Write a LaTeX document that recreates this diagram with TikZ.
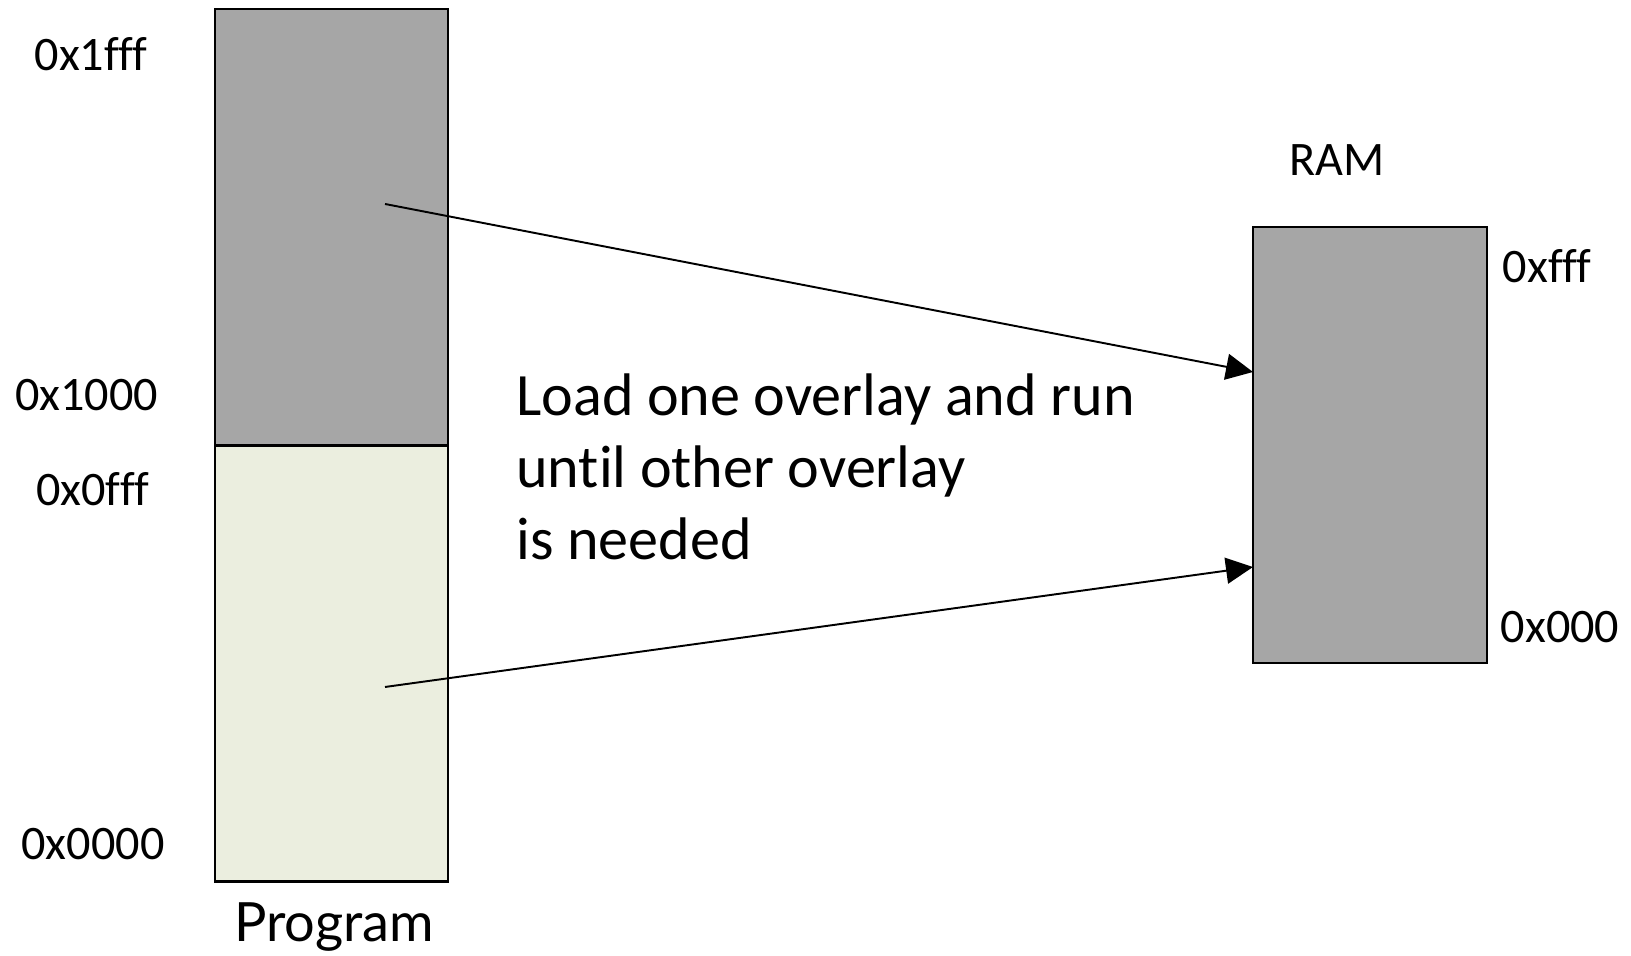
\documentclass[tikz,border=0pt]{standalone}
\usepackage{fontspec}
\setmainfont{Carlito}[Ligatures=NoCommon]
\newfontfamily\progfont{Lato}
\usetikzlibrary{arrows.meta}

\definecolor{segfill}{HTML}{A6A6A6}
\definecolor{lowfill}{HTML}{EBEEDF}

\begin{document}
\begin{tikzpicture}[
    block/.style={draw, line width=1.4pt, rectangle, inner sep=0pt, outer sep=0pt,
                  minimum width=4.67cm, minimum height=8.72cm},
    addr/.style={anchor=base, inner sep=0pt, font=\fontsize{27.4}{33}\selectfont},
    loadarrow/.style={line width=1.1pt, -{Triangle[length=0.54cm, width=0.52cm]}}
]
    \useasboundingbox (0,0) rectangle (32.62,19.12);

    %% Program image, split into two overlays
    \node[block, fill=segfill] (ovtop) at (6.63,14.58) {};
    \node[block, fill=lowfill] (ovbot) at (6.63,5.85) {};
    \node[anchor=base, inner sep=0pt, font=\progfont\fontsize{30.8}{36}\selectfont] (prog) at (6.68,0.28) {Program};

    % Program addresses
    \node[addr] (a1fff) at (1.82,17.70) {0x1fff};
    \node[addr] (a1000) at (1.73,10.91) {0x1000};
    \node[addr] (a0fff) at (1.85,9.00) {0x0fff};
    \node[addr] (a0000) at (1.86,1.92) {0x0000};

    %% RAM
    \node[block, fill=segfill] (ram) at (27.40,10.22) {};
    \node[addr] (ramlbl) at (26.74,15.60) {RAM};
    \node[addr] (rfff) at (30.94,13.46) {0xfff};
    \node[addr] (r000) at (31.20,6.27) {0x000};

    %% Loading the overlays
    \coordinate (srctop) at (7.70,15.04);
    \coordinate (srcbot) at (7.70,5.38);
    \coordinate (dsttop) at (25.06,11.68);
    \coordinate (dstbot) at (25.06,7.78);
    \draw[loadarrow] (srctop) -- (dsttop);
    \draw[loadarrow] (srcbot) -- (dstbot);

    % base of this node is the last line
    \node[anchor=base west, inner sep=0pt, align=left, font=\fontsize{34.2}{41}\selectfont] (note) at (10.32,7.93)
        {Load one overlay and run\\until other overlay\\is needed};

\end{tikzpicture}
\end{document}
